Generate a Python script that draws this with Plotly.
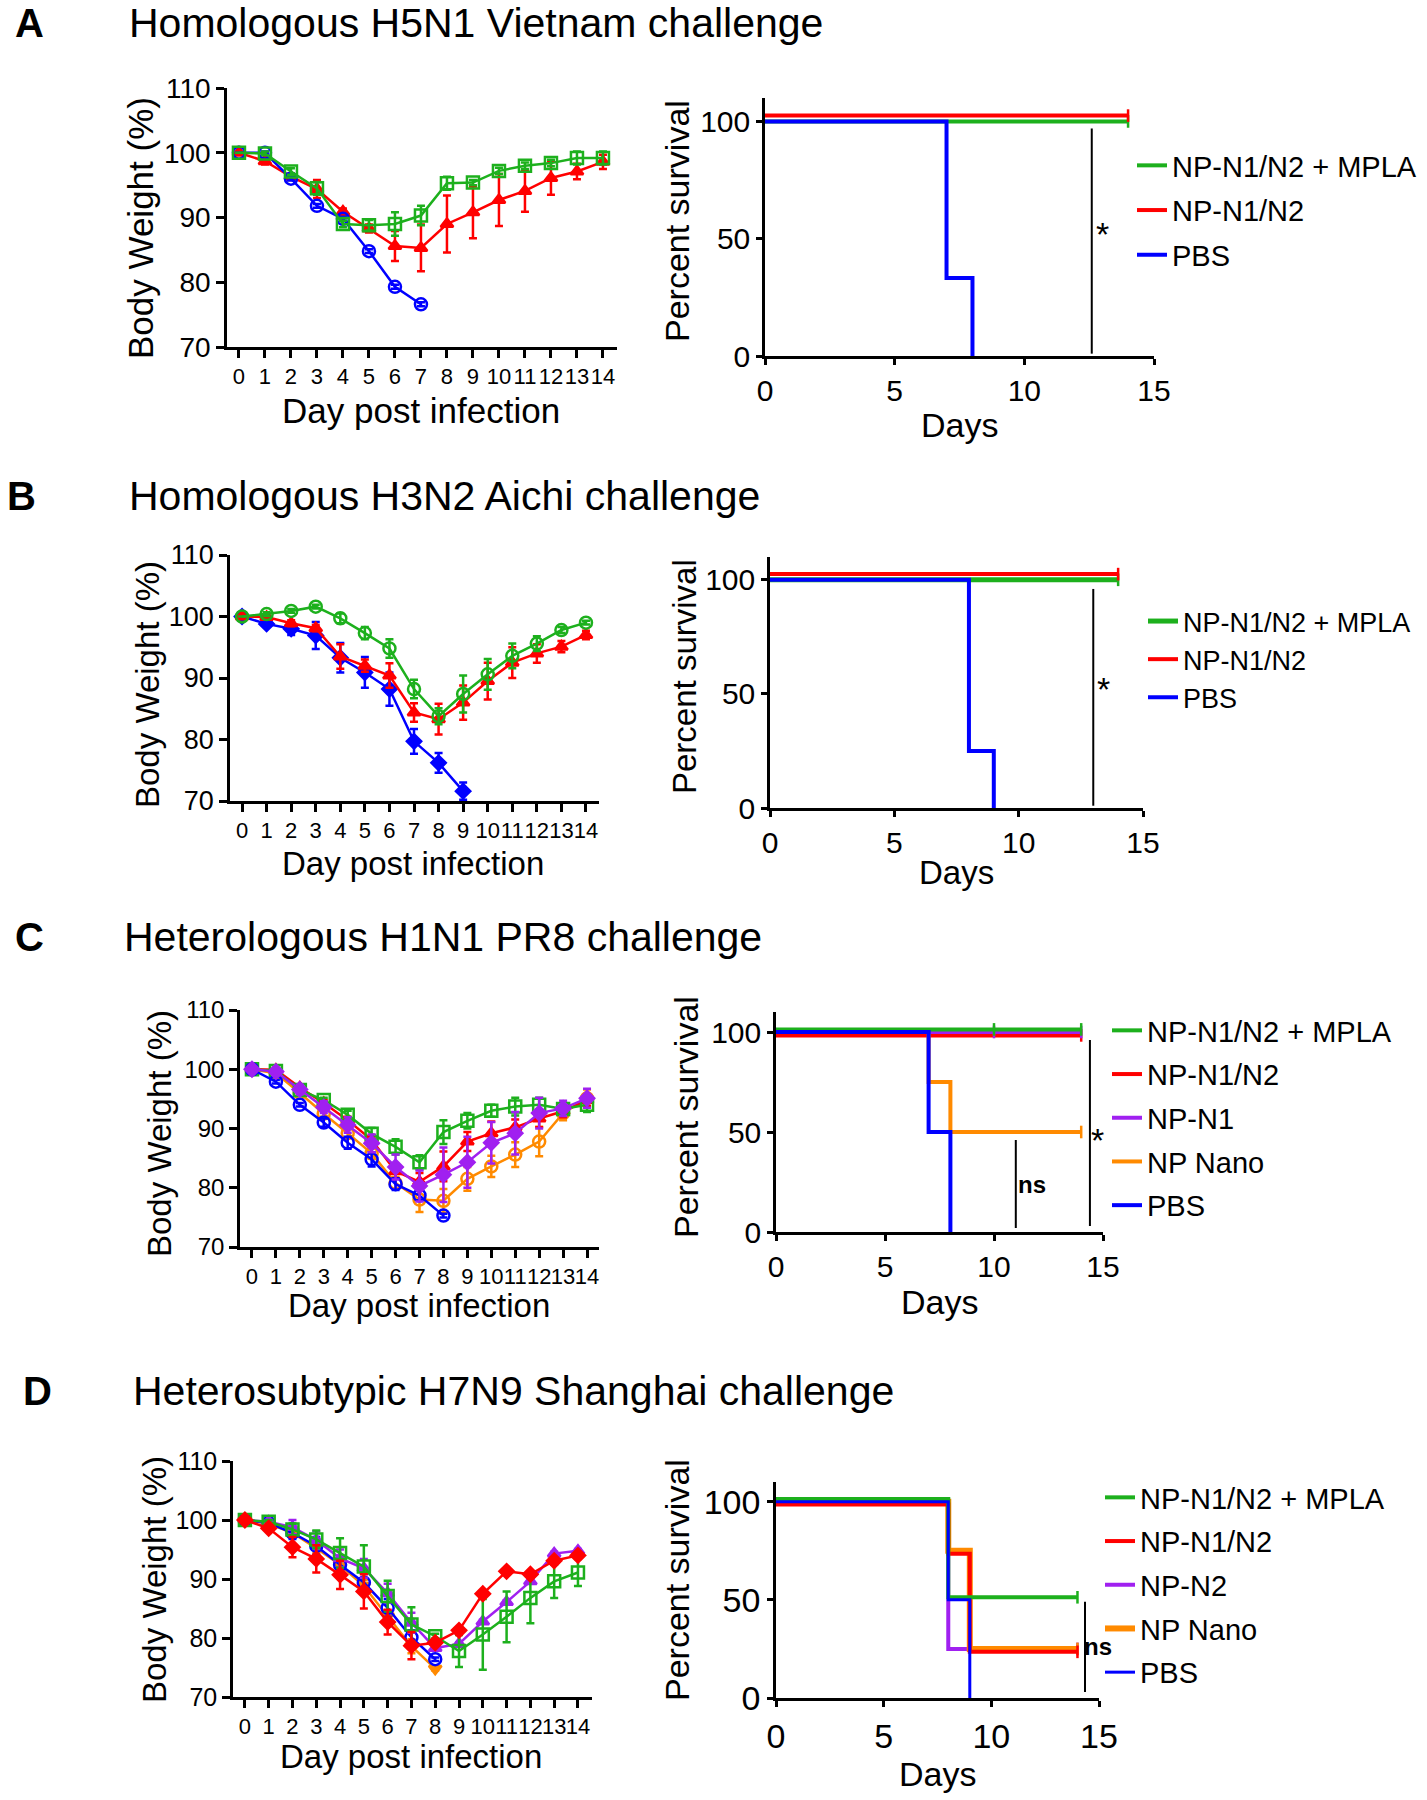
import plotly.graph_objects as go

W, H = 1427, 1800
FONT = "Liberation Sans, Arial, Helvetica, sans-serif"

GREEN = "#1db01d"
RED = "#ff0000"
BLUE = "#0000ff"
PURPLE = "#a020f0"
ORANGE = "#ff8a00"

# ---------------- data ----------------
DAYS = list(range(15))
DAY_TICKS = [str(d) for d in DAYS]

PANEL_TITLES = ["Homologous H5N1 Vietnam challenge",
                "Homologous H3N2 Aichi challenge",
                "Heterologous H1N1 PR8 challenge",
                "Heterosubtypic H7N9 Shanghai challenge"]
PANEL_LETTERS = ["A", "B", "C", "D"]
WEIGHT_XTITLE = "Day post infection"
WEIGHT_YTITLE = "Body Weight (%)"
SURV_XTITLE = "Days"
SURV_YTITLE = "Percent survival"

# Panel A body weight (%)
A_w_mpla = [100, 99.9, 97.1, 94.5, 89.0, 88.8, 89.0, 90.3, 95.3, 95.4, 97.2, 98.0, 98.4, 99.2, 99.2]
A_e_mpla = [0, 0.3, 0.5, 1.0, 0.5, 0.8, 1.8, 1.5, 1.0, 0.4, 0.5, 0.5, 0.5, 1.0, 1.0]
A_w_n1n2 = [100, 98.7, 96.3, 94.4, 90.9, 88.3, 85.6, 85.3, 89.0, 90.8, 92.7, 94.1, 96.1, 97.1, 98.6]
A_e_n1n2 = [0, 0.5, 0.5, 1.4, 0.5, 0.6, 2.3, 3.6, 4.4, 4.0, 4.0, 3.2, 2.6, 1.2, 1.1]
A_w_pbs = [100, 100, 96.0, 91.8, 89.8, 84.8, 79.3, 76.6]
A_e_pbs = [0, 0.2, 0.3, 0.3, 0.3, 0.3, 0.3, 0.3]

# Panel B body weight (%)
B_w_mpla = [100, 100.4, 100.9, 101.6, 99.7, 97.3, 94.8, 88.2, 83.8, 87.4, 90.6, 93.6, 95.6, 97.8, 99.0]
B_e_mpla = [0, 0.3, 0.3, 0.3, 0.8, 1.0, 1.5, 1.5, 1.3, 3.0, 2.5, 2.0, 1.2, 0.5, 0.3]
B_w_n1n2 = [100, 99.9, 98.9, 98.1, 93.5, 92.0, 90.4, 84.4, 83.3, 86.0, 89.5, 92.5, 94.0, 95.1, 97.0]
B_e_n1n2 = [0, 0.3, 0.5, 0.5, 2.0, 1.0, 2.0, 1.5, 2.5, 2.8, 3.0, 2.5, 1.5, 0.9, 0.7]
B_w_pbs = [100, 98.8, 98.0, 96.9, 93.3, 90.9, 88.2, 79.7, 76.2, 71.6]
B_e_pbs = [0, 0.3, 1.0, 2.2, 2.4, 2.5, 2.7, 2.0, 1.6, 1.4]

# Panel C body weight (%)
C_w_mpla = [100, 99.7, 96.5, 94.8, 92.3, 89.1, 86.9, 84.3, 89.4, 91.3, 93.0, 93.7, 94.0, 93.3, 94.0]
C_e_mpla = [0, 0.4, 0.4, 0.4, 0.7, 1.0, 1.3, 1.2, 2.0, 1.3, 1.0, 1.5, 1.2, 1.0, 1.2]
C_w_n1n2 = [100, 99.9, 96.9, 94.3, 91.4, 88.1, 82.8, 81.0, 83.6, 87.8, 89.2, 90.2, 91.7, 92.9, 94.8]
C_e_n1n2 = [0, 0.3, 0.4, 0.5, 0.6, 0.8, 1.2, 1.5, 2.5, 1.6, 2.0, 1.3, 1.5, 1.0, 1.0]
C_w_n1 = [100, 99.6, 96.6, 93.6, 90.6, 87.5, 83.5, 80.3, 82.2, 84.3, 87.6, 89.2, 92.6, 93.4, 95.1]
C_e_n1 = [0, 0.3, 0.8, 1.0, 1.3, 1.5, 2.1, 2.6, 4.6, 4.3, 3.5, 3.6, 2.6, 1.3, 1.6]
C_w_nano = [100, 99.3, 96.0, 92.5, 89.2, 85.8, 80.8, 78.0, 77.8, 81.5, 83.6, 85.6, 87.8, 92.6, 95.1]
C_e_nano = [0, 0.3, 0.4, 0.5, 0.7, 0.9, 1.0, 2.1, 2.0, 2.0, 1.8, 2.1, 2.5, 1.2, 1.5]
C_w_pbs = [100, 97.9, 94.0, 91.0, 87.6, 84.8, 80.6, 78.7, 75.3]
C_e_pbs = [0, 0.3, 0.3, 0.7, 1.0, 1.2, 1.0, 0.8, 0.3]

# Panel D body weight (%)
D_w_mpla = [100, 99.7, 98.4, 96.7, 94.4, 92.1, 87.1, 82.3, 80.3, 77.8, 80.6, 83.6, 86.8, 89.6, 91.1]
D_e_mpla = [0, 0.3, 1.0, 1.5, 2.5, 3.6, 2.6, 2.9, 0.4, 2.7, 6.0, 4.3, 4.3, 2.8, 2.3]
D_w_n1n2 = [100, 98.6, 95.4, 93.4, 90.7, 87.9, 82.7, 78.7, 79.2, 81.3, 87.5, 91.3, 90.8, 93.1, 94.0]
D_e_n1n2 = [0, 0.3, 1.7, 2.3, 2.4, 2.9, 2.1, 2.3, 0.4, 0.4, 0.3, 0.3, 0.3, 0.3, 0.3]
D_w_n2 = [100, 99.7, 98.8, 96.6, 93.5, 91.8, 87.6, 82.6, 78.3, 79.0, 82.8, 86.1, 89.6, 94.3, 94.8]
D_e_n2 = [0, 0.3, 1.2, 1.5, 1.5, 1.6, 1.6, 1.7, 0.3, 0.3, 0.3, 0.3, 0.3, 0.3, 0.3]
D_w_nano = [100, 99.4, 97.8, 95.2, 92.4, 88.8, 83.7, 78.6, 74.8]
D_e_nano = [0, 0.3, 0.6, 0.8, 1.0, 1.0, 1.0, 1.2, 0.3]
D_w_pbs = [100, 99.5, 97.8, 95.6, 92.4, 89.4, 85.1, 80.1, 76.4]
D_e_pbs = [0, 0.3, 1.0, 1.5, 1.5, 1.5, 1.5, 1.2, 0.3]

# Survival (Kaplan-Meier step points: day, percent survival) and censored days
A_st_mpla, A_sv_mpla, A_cn_mpla = [0, 14], [100, 100], [14]
A_st_n1n2, A_sv_n1n2, A_cn_n1n2 = [0, 14], [100, 100], [14]
A_st_pbs, A_sv_pbs, A_cn_pbs = [0, 7, 8], [100, 33.3, 0], []

B_st_mpla, B_sv_mpla, B_cn_mpla = [0, 14], [100, 100], [14]
B_st_n1n2, B_sv_n1n2, B_cn_n1n2 = [0, 14], [100, 100], [14]
B_st_pbs, B_sv_pbs, B_cn_pbs = [0, 8, 9], [100, 25, 0], []

C_st_mpla, C_sv_mpla, C_cn_mpla = [0, 14], [100, 100], [10, 14]
C_st_n1n2, C_sv_n1n2, C_cn_n1n2 = [0, 14], [100, 100], [14]
C_st_n1, C_sv_n1, C_cn_n1 = [0, 14], [100, 100], [10, 14]
C_st_nano, C_sv_nano, C_cn_nano = [0, 7, 8, 14], [100, 75, 50, 50], [14]
C_st_pbs, C_sv_pbs, C_cn_pbs = [0, 7, 8], [100, 50, 0], []

D_st_mpla, D_sv_mpla, D_cn_mpla = [0, 8, 14], [100, 50, 50], [14]
D_st_n1n2, D_sv_n1n2, D_cn_n1n2 = [0, 8, 9, 14], [100, 75, 25, 25], [14]
D_st_n2, D_sv_n2, D_cn_n2 = [0, 8, 14], [100, 25, 25], [14]
D_st_nano, D_sv_nano, D_cn_nano = [0, 8, 9, 14], [100, 75, 25, 25], [14]
D_st_pbs, D_sv_pbs, D_cn_pbs = [0, 8, 9], [100, 50, 0], []

# significance brackets: (day, y from, y to, label, label day, label y)
A_sig = [(12.6, 1, 97, "*", 13.0, 52)]
B_sig = [(13.0, 1, 96, "*", 13.4, 52)]
C_sig = [(11.0, 2, 46, "ns", 11.75, 24), (14.4, 3, 96, "*", 14.75, 46)]
D_sig = [(14.35, 3, 49, "ns", 14.95, 26)]

# ---------------- layout geometry (pixels) ----------------
WEIGHT_BOX = [(227, 617, 88, 347, (-0.46, 14.54)),
              (230, 599, 555, 801, (-0.49, 14.53)),
              (240, 599, 1010, 1247, (-0.50, 14.50)),
              (233, 592, 1461, 1697, (-0.50, 14.59))]
SURV_BOX = [(765, 1154, 98, 356),
            (770, 1143, 557, 808),
            (776, 1103, 1012, 1232),
            (776, 1099, 1482, 1698)]
# axis title centres (pixels): weight-y, weight-x, survival-y, survival-x
WT_YTITLE_POS = [(140, 228), (147, 685), (159, 1134), (154, 1580)]
WT_XTITLE_POS = [(421, 411), (413, 863), (419, 1305), (411, 1756)]
SV_YTITLE_POS = [(677, 221), (685, 677), (686, 1117), (677, 1580)]
SV_XTITLE_POS = [(959, 425), (956, 872), (939, 1302), (937, 1774)]


def xdom(a, b):
    return [a / W, b / W]


def ydom(top, bottom):
    return [1 - bottom / H, 1 - top / H]


fig = go.Figure()

weight_panels = [
    [("NP-N1/N2", A_w_n1n2, A_e_n1n2, RED, "triangle-up"),
     ("PBS", A_w_pbs, A_e_pbs, BLUE, "circle-open"),
     ("NP-N1/N2 + MPLA", A_w_mpla, A_e_mpla, GREEN, "square-open")],
    [("PBS", B_w_pbs, B_e_pbs, BLUE, "diamond"),
     ("NP-N1/N2", B_w_n1n2, B_e_n1n2, RED, "triangle-up"),
     ("NP-N1/N2 + MPLA", B_w_mpla, B_e_mpla, GREEN, "circle-open")],
    [("NP Nano", C_w_nano, C_e_nano, ORANGE, "circle-open"),
     ("NP-N1/N2", C_w_n1n2, C_e_n1n2, RED, "triangle-up"),
     ("NP-N1/N2 + MPLA", C_w_mpla, C_e_mpla, GREEN, "square-open"),
     ("PBS", C_w_pbs, C_e_pbs, BLUE, "circle-open"),
     ("NP-N1", C_w_n1, C_e_n1, PURPLE, "diamond")],
    [("NP Nano", D_w_nano, D_e_nano, ORANGE, "triangle-down"),
     ("PBS", D_w_pbs, D_e_pbs, BLUE, "circle-open"),
     ("NP-N2", D_w_n2, D_e_n2, PURPLE, "triangle-up"),
     ("NP-N1/N2 + MPLA", D_w_mpla, D_e_mpla, GREEN, "square-open"),
     ("NP-N1/N2", D_w_n1n2, D_e_n1n2, RED, "diamond")],
]

surv_panels = [
    [("NP-N1/N2 + MPLA", A_st_mpla, A_sv_mpla, A_cn_mpla, GREEN),
     ("NP-N1/N2", A_st_n1n2, A_sv_n1n2, A_cn_n1n2, RED),
     ("PBS", A_st_pbs, A_sv_pbs, A_cn_pbs, BLUE)],
    [("NP-N1/N2 + MPLA", B_st_mpla, B_sv_mpla, B_cn_mpla, GREEN),
     ("NP-N1/N2", B_st_n1n2, B_sv_n1n2, B_cn_n1n2, RED),
     ("PBS", B_st_pbs, B_sv_pbs, B_cn_pbs, BLUE)],
    [("NP-N1/N2 + MPLA", C_st_mpla, C_sv_mpla, C_cn_mpla, GREEN),
     ("NP-N1/N2", C_st_n1n2, C_sv_n1n2, C_cn_n1n2, RED),
     ("NP-N1", C_st_n1, C_sv_n1, C_cn_n1, PURPLE),
     ("NP Nano", C_st_nano, C_sv_nano, C_cn_nano, ORANGE),
     ("PBS", C_st_pbs, C_sv_pbs, C_cn_pbs, BLUE)],
    [("NP-N1/N2 + MPLA", D_st_mpla, D_sv_mpla, D_cn_mpla, GREEN),
     ("NP-N1/N2", D_st_n1n2, D_sv_n1n2, D_cn_n1n2, RED),
     ("NP-N2", D_st_n2, D_sv_n2, D_cn_n2, PURPLE),
     ("NP Nano", D_st_nano, D_sv_nano, D_cn_nano, ORANGE),
     ("PBS", D_st_pbs, D_sv_pbs, D_cn_pbs, BLUE)],
]
sig_panels = [A_sig, B_sig, C_sig, D_sig]

# drawing styles: vertical display offset (GraphPad-style nudge) and draw order
SURV_NUDGE = [{"NP-N1/N2": 2.5}, {"NP-N1/N2": 2.5},
              {"NP-N1/N2 + MPLA": 1.3, "NP-N1/N2": -1.7},
              {"NP-N1/N2 + MPLA": 1.3, "NP-N1/N2": -1.5}]
SURV_WIDTH = [{}, {"NP-N1/N2 + MPLA": 5}, {}, {"NP Nano": 6, "PBS": 3}]
DRAW_ORDER = [["NP-N1/N2 + MPLA", "NP-N1/N2", "PBS"],
              ["NP-N1/N2 + MPLA", "NP-N1/N2", "PBS"],
              ["NP-N1/N2", "NP Nano", "NP-N1", "NP-N1/N2 + MPLA", "PBS"],
              ["NP-N2", "NP Nano", "NP-N1/N2", "NP-N1/N2 + MPLA", "PBS"]]

WT_TICKFONT_Y = [28, 27, 24, 25]
WT_TICKFONT_X = [22, 22, 22, 22]
WT_TITLEFONT = [35, 33, 33, 33]
SV_TICKFONT = [30, 30, 30, 34]
SV_TITLEFONT = [34, 33, 34, 34]

LEGEND_POS = [(1132, 140, 29, 4), (1143, 597, 27, 0), (1107, 1005, 29, 3), (1100, 1472, 29, 3)]

axis_line = dict(showline=True, linecolor="black", linewidth=2.5, ticks="outside",
                 tickcolor="black", tickwidth=2.5, showgrid=False, zeroline=False,
                 mirror=False, automargin=False)

layout_axes = {}
annotations = []


def title_ann(text, pos, size, vertical):
    return dict(xref="paper", yref="paper", x=pos[0] / W, y=1 - pos[1] / H, text=text,
                showarrow=False, xanchor="center", yanchor="middle",
                textangle=-90 if vertical else 0,
                font=dict(size=size, color="black", family=FONT))


for p in range(4):
    # ---- weight subplot ----
    xi = 2 * p + 1
    xl, xr, yt, yb, xrng = WEIGHT_BOX[p]
    xname = "xaxis" if xi == 1 else f"xaxis{xi}"
    yname = "yaxis" if xi == 1 else f"yaxis{xi}"
    xref = "x" if xi == 1 else f"x{xi}"
    yref = "y" if xi == 1 else f"y{xi}"
    layout_axes[xname] = dict(axis_line, domain=xdom(xl, xr), anchor=yref,
                              range=list(xrng), tickvals=DAYS, ticktext=DAY_TICKS, ticklen=8,
                              tickangle=0,
                              tickfont=dict(size=WT_TICKFONT_X[p], color="black", family=FONT))
    layout_axes[yname] = dict(axis_line, domain=ydom(yt, yb), anchor=xref,
                              range=[70, 110], tickvals=[70, 80, 90, 100, 110], ticklen=8,
                              tickfont=dict(size=WT_TICKFONT_Y[p], color="black", family=FONT))
    annotations.append(title_ann(WEIGHT_YTITLE, WT_YTITLE_POS[p], WT_TITLEFONT[p], True))
    annotations.append(title_ann(WEIGHT_XTITLE, WT_XTITLE_POS[p], WT_TITLEFONT[p], False))
    for name, vals, errs, col, sym in weight_panels[p]:
        fig.add_trace(go.Scatter(
            x=DAYS[:len(vals)], y=vals, mode="lines+markers", name=name, showlegend=False,
            xaxis=xref, yaxis=yref,
            line=dict(color=col, width=2.5),
            marker=dict(symbol=sym, size=12 if "open" in sym else 11, color=col,
                        line=dict(color=col, width=2.5)),
            error_y=dict(type="data", array=errs, visible=True, color=col, thickness=2.5, width=4),
        ))

    # ---- survival subplot ----
    xs = 2 * p + 2
    sl, sr, st, sb = SURV_BOX[p]
    layout_axes[f"xaxis{xs}"] = dict(axis_line, domain=xdom(sl, sr), anchor=f"y{xs}",
                                     range=[0, 15], tickvals=[0, 5, 10, 15], ticklen=6,
                                     tickangle=0,
                                     tickfont=dict(size=SV_TICKFONT[p], color="black", family=FONT))
    layout_axes[f"yaxis{xs}"] = dict(axis_line, domain=ydom(st, sb), anchor=f"x{xs}",
                                     range=[0, 110], tickvals=[0, 50, 100], ticklen=6,
                                     tickfont=dict(size=SV_TICKFONT[p], color="black", family=FONT))
    annotations.append(title_ann(SURV_YTITLE, SV_YTITLE_POS[p], SV_TITLEFONT[p], True))
    annotations.append(title_ann(SURV_XTITLE, SV_XTITLE_POS[p], SV_TITLEFONT[p], False))
    legname = "legend" if p == 0 else f"legend{p + 1}"
    groups = {g[0]: g for g in surv_panels[p]}
    rank = {g[0]: i for i, g in enumerate(surv_panels[p])}
    for name in DRAW_ORDER[p]:
        _, tt, vv, cens, col = groups[name]
        nud = SURV_NUDGE[p].get(name, 0)
        wid = SURV_WIDTH[p].get(name, 4)
        fig.add_trace(go.Scatter(
            x=tt, y=[v + nud for v in vv], mode="lines", name=name, line_shape="hv",
            line=dict(color=col, width=wid), xaxis=f"x{xs}", yaxis=f"y{xs}",
            legend=legname, legendgroup=f"{p}-{name}", legendrank=rank[name] + 1,
            cliponaxis=False,
        ))
        if cens:
            cy = []
            for c in cens:
                val = vv[0]
                for t, v in zip(tt, vv):
                    if t <= c:
                        val = v
                cy.append(val + nud)
            fig.add_trace(go.Scatter(
                x=cens, y=cy, mode="markers", showlegend=False, xaxis=f"x{xs}", yaxis=f"y{xs}",
                marker=dict(symbol="line-ns-open", size=9, color=col, line=dict(color=col, width=2.5)),
                cliponaxis=False, legendgroup=f"{p}-{name}",
            ))

    lx, ly, lfs, lgap = LEGEND_POS[p]
    layout_axes[legname] = dict(x=lx / W, y=1 - ly / H, xanchor="left", yanchor="top",
                                font=dict(size=lfs, color="black", family=FONT),
                                bgcolor="rgba(0,0,0,0)", borderwidth=0,
                                traceorder="grouped", tracegroupgap=lgap)

fig.update_layout(**layout_axes)

# significance lines and labels
shapes = []
for p in range(4):
    xs = 2 * p + 2
    for (sx, y0, y1, lab, lxx, lyy) in sig_panels[p]:
        shapes.append(dict(type="line", xref=f"x{xs}", yref=f"y{xs}", x0=sx, x1=sx, y0=y0, y1=y1,
                           line=dict(color="black", width=2)))
        annotations.append(dict(xref=f"x{xs}", yref=f"y{xs}", x=lxx, y=lyy,
                                text=f"<b>{lab}</b>" if lab == "ns" else lab, showarrow=False,
                                font=dict(size=24 if lab == "ns" else 34, color="black", family=FONT),
                                xanchor="center", yanchor="middle"))

# panel letters and titles (pixel positions)
LETTER_POS = [(29, 23), (21, 496), (29, 937), (37, 1391)]
TITLE_POS = [(127, 23), (127, 496), (122, 937), (131, 1391)]
for p in range(4):
    lxp, lyp = LETTER_POS[p]
    txp, typ = TITLE_POS[p]
    annotations.append(dict(xref="paper", yref="paper", x=lxp / W, y=1 - lyp / H,
                            text=f"<b>{PANEL_LETTERS[p]}</b>", showarrow=False,
                            xanchor="center", yanchor="middle",
                            font=dict(size=40, color="black", family=FONT)))
    annotations.append(dict(xref="paper", yref="paper", x=txp / W, y=1 - typ / H,
                            text=PANEL_TITLES[p], showarrow=False,
                            xanchor="left", yanchor="middle",
                            font=dict(size=41, color="black", family=FONT)))

fig.update_layout(
    width=W, height=H,
    margin=dict(l=0, r=0, t=0, b=0, pad=0, autoexpand=False),
    paper_bgcolor="white", plot_bgcolor="white",
    font=dict(family=FONT, color="black"),
    shapes=shapes, annotations=annotations,
)

fig.write_html("out.html", config={"displayModeBar": False},
               post_script="document.body.style.margin='0';")
